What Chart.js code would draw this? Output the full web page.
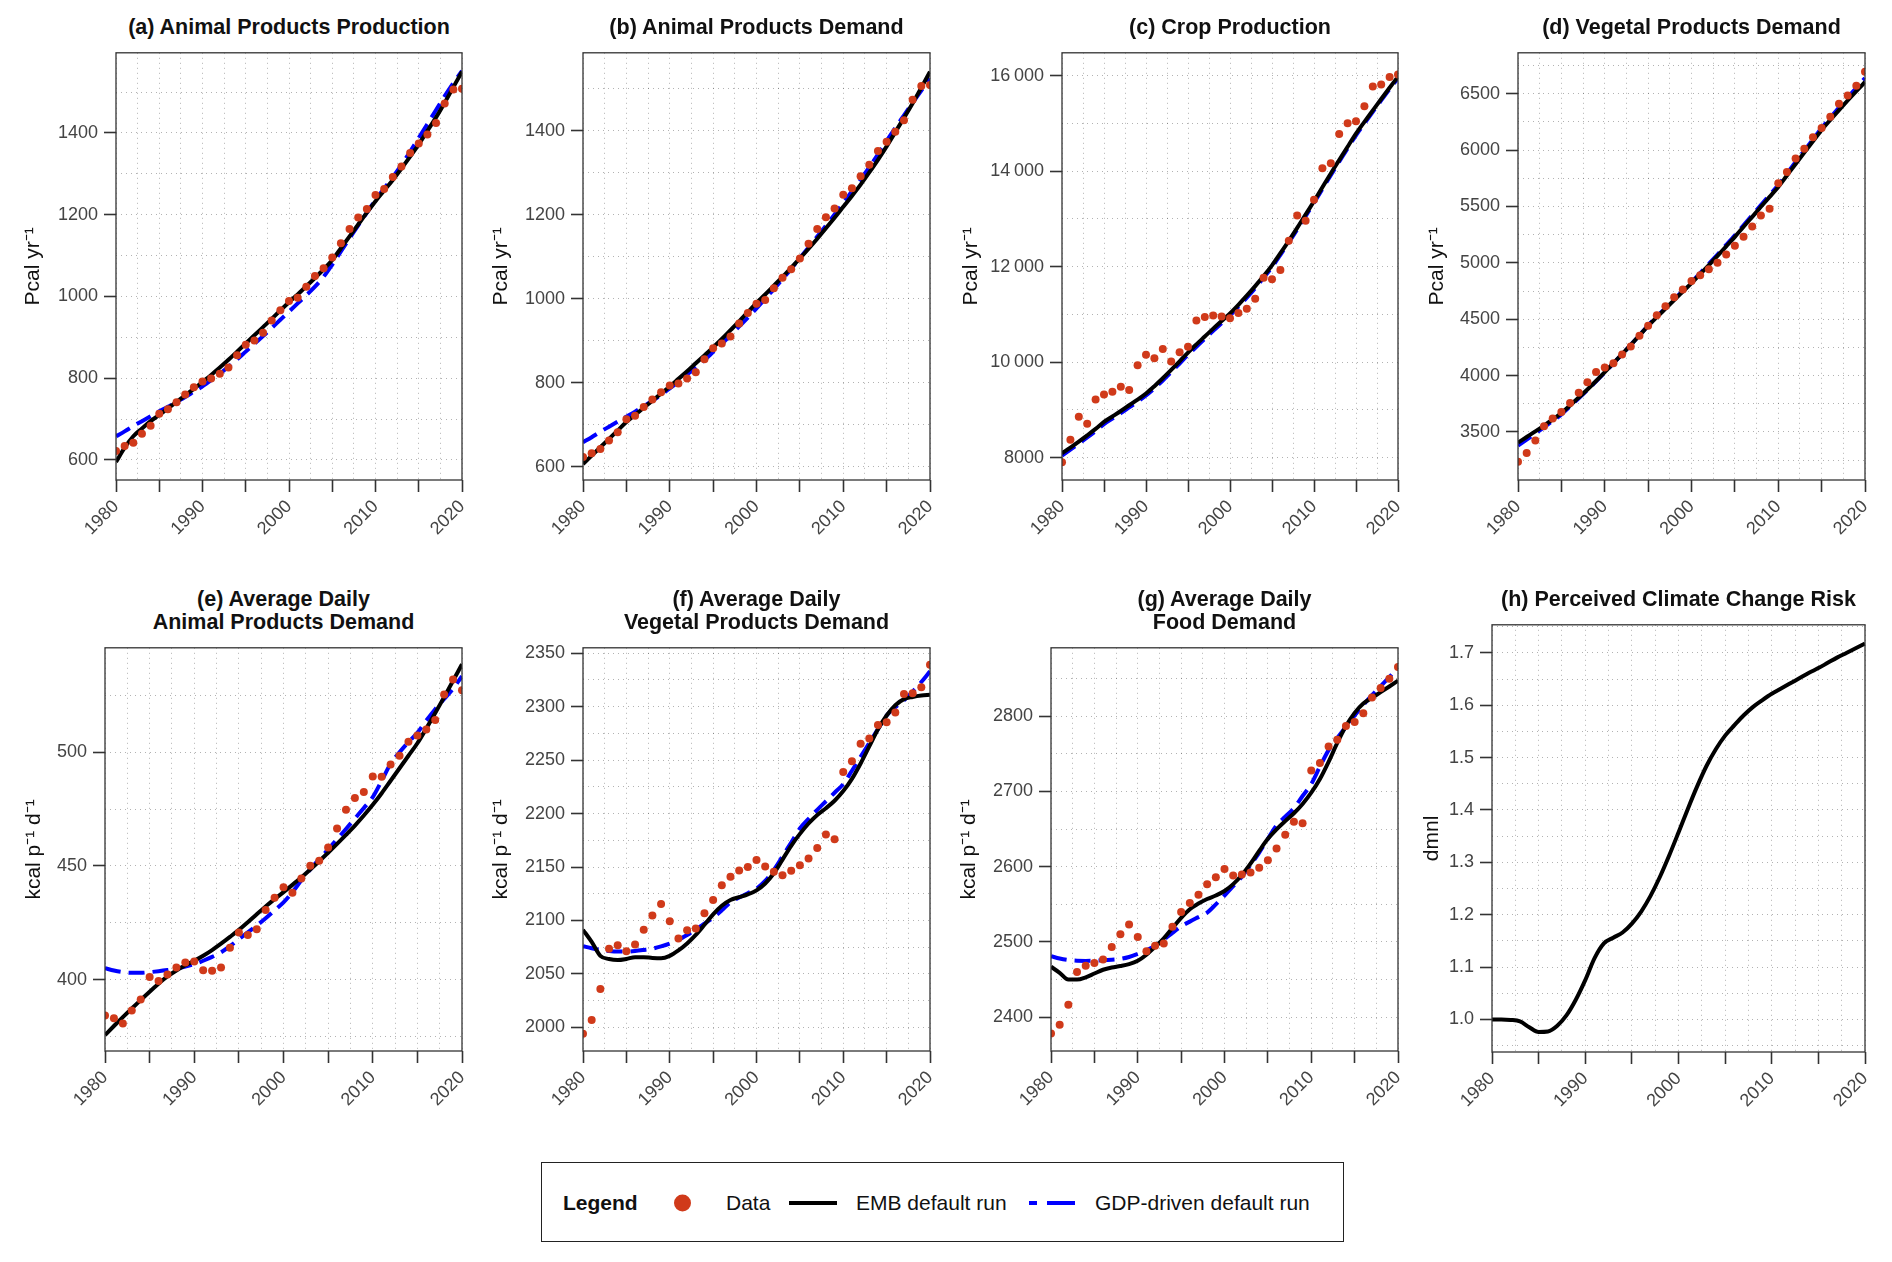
<!DOCTYPE html>
<html>
<head>
<meta charset="utf-8">
<script src="https://cdn.jsdelivr.net/npm/chart.js@4.4.1/dist/chart.umd.min.js"></script>
<style>
  body { margin: 0; background: #fff; width: 1892px; height: 1262px; position: relative; overflow: hidden;
         font-family: "Liberation Sans", Arial, sans-serif; }
  canvas.panel { position: absolute; }
  .ptitle { position: absolute; font-weight: bold; font-size: 21.5px; line-height: 23px; text-align: center;
            color: #111; white-space: nowrap; }
  #legend { position: absolute; left: 541px; top: 1162px; width: 801px; height: 78px; border: 1.5px solid #222;
            font-size: 21px; color: #111; }
  #legend span { position: absolute; top: 40px; transform: translateY(-50%); white-space: nowrap; }
</style>
</head>
<body>
<div id="legend">
  <span style="left:21px;font-weight:bold">Legend</span>
  <span style="left:132px;width:17px;height:17px;border-radius:50%;background:#d03a1a"></span>
  <span style="left:184px">Data</span>
  <span style="left:247px;width:48px;height:4px;background:#000"></span>
  <span style="left:314px">EMB default run</span>
  <span style="left:487px;width:8px;height:4px;background:#0000ff"></span>
  <span style="left:505px;width:28px;height:4px;background:#0000ff"></span>
  <span style="left:553px">GDP-driven default run</span>
</div>
<script>
const years = [1980, 1981, 1982, 1983, 1984, 1985, 1986, 1987, 1988, 1989,
               1990, 1991, 1992, 1993, 1994, 1995, 1996, 1997, 1998, 1999,
               2000, 2001, 2002, 2003, 2004, 2005, 2006, 2007, 2008, 2009,
               2010, 2011, 2012, 2013, 2014, 2015, 2016, 2017, 2018, 2019, 2020];
const xTickLabels = [1980, 1990, 2000, 2010, 2020];

// (a) animal products production, Pcal/yr
const aData = [622, 634, 642, 664, 684, 713, 724, 741, 760, 778, 792, 799, 811, 826, 856, 882, 892, 911, 941, 966,
               989, 997, 1024, 1050, 1069, 1095, 1130, 1165, 1193, 1214, 1248, 1263, 1292, 1318, 1351, 1374, 1396, 1424, 1472, 1506, 1508];
const aEmb = [595, 630, 658, 677, 695, 710, 726, 742, 758, 774, 791, 808, 826, 845, 865, 885, 905, 925, 945, 966,
              986, 1005, 1025, 1045, 1066, 1089, 1118, 1147, 1176, 1205, 1233, 1259, 1285, 1313, 1342, 1372, 1405, 1438, 1474, 1512, 1550];
const aGdp = [658, 670, 683, 695, 707, 719, 730, 742, 754, 767, 780, 795, 811, 828, 846, 865, 884, 903, 923, 943,
              963, 983, 1003, 1024, 1048, 1078, 1110, 1142, 1174, 1205, 1236, 1264, 1292, 1322, 1354, 1388, 1422, 1456, 1490, 1522, 1552];
const aTicks = [600, 800, 1000, 1200, 1400];

// (b) animal products demand, Pcal/yr
const bData = [623, 632, 642, 662, 682, 713, 721, 742, 760, 777, 793, 798, 810, 825, 856, 882, 893, 910, 941, 966,
               988, 997, 1025, 1050, 1070, 1096, 1131, 1166, 1194, 1215, 1248, 1263, 1292, 1319, 1352, 1374, 1398, 1425, 1474, 1507, 1509];
const bEmb = [606, 626, 646, 666, 686, 706, 723, 740, 757, 774, 791, 809, 827, 846, 865, 884, 904, 925, 946, 968,
              990, 1010, 1031, 1052, 1074, 1096, 1119, 1143, 1168, 1193, 1219, 1245, 1272, 1301, 1331, 1363, 1397, 1431, 1466, 1503, 1541];
const bGdp = [658, 670, 683, 695, 707, 719, 731, 744, 757, 771, 786, 802, 819, 836, 854, 873, 892, 913, 934, 955,
              977, 1000, 1023, 1047, 1071, 1097, 1122, 1148, 1174, 1201, 1228, 1256, 1284, 1313, 1344, 1376, 1407, 1437, 1467, 1496, 1525];
const bTicks = [600, 800, 1000, 1200, 1400];

// (c) crop production, Pcal/yr
const cData = [7903, 8373, 8857, 8708, 9215, 9320, 9379, 9484, 9417, 9931, 10155, 10080, 10274, 10013, 10207, 10319, 10870, 10945, 10975, 10952,
               10915, 11027, 11116, 11325, 11765, 11735, 11929, 12540, 13070, 12958, 13398, 14061, 14166, 14777, 15001, 15045, 15358, 15769, 15813, 15970, 16022];
const cEmb = [8090, 8210, 8335, 8465, 8600, 8746, 8860, 8975, 9095, 9215, 9342, 9495, 9660, 9835, 10015, 10199, 10370, 10535, 10700, 10860,
              11020, 11200, 11390, 11590, 11800, 12026, 12280, 12540, 12810, 13090, 13368, 13660, 13950, 14230, 14510, 14784, 15030, 15270, 15510, 15745, 15977];
const cGdp = [8040, 8165, 8290, 8420, 8555, 8700, 8815, 8930, 9050, 9170, 9300, 9450, 9615, 9790, 9970, 10150, 10320, 10490, 10655, 10815,
              10975, 11160, 11350, 11550, 11765, 11990, 12245, 12505, 12775, 13055, 13335, 13625, 13915, 14195, 14475, 14750, 14995, 15240, 15480, 15715, 15950];
const cTicks = [8000, 10000, 12000, 14000, 16000];

// (d) vegetal products demand, Pcal/yr
const dData = [3235, 3314, 3424, 3551, 3620, 3677, 3756, 3847, 3942, 4031, 4072, 4109, 4188, 4258, 4353, 4441, 4536, 4615, 4694, 4763,
               4839, 4889, 4943, 5000, 5073, 5152, 5231, 5322, 5420, 5480, 5707, 5805, 5925, 6011, 6115, 6197, 6295, 6412, 6484, 6570, 6696];
const dEmb = [3405, 3455, 3505, 3557, 3611, 3667, 3735, 3805, 3877, 3952, 4031, 4110, 4190, 4272, 4356, 4441, 4518, 4594, 4670, 4745,
              4820, 4900, 4980, 5062, 5146, 5231, 5320, 5408, 5497, 5585, 5673, 5775, 5877, 5978, 6078, 6178, 6268, 6355, 6440, 6523, 6604];
const dGdp = [3378, 3432, 3486, 3542, 3598, 3656, 3726, 3798, 3872, 3948, 4028, 4108, 4190, 4273, 4358, 4444, 4522, 4599, 4676, 4752,
              4828, 4909, 4991, 5074, 5159, 5245, 5334, 5423, 5512, 5601, 5690, 5792, 5894, 5995, 6095, 6195, 6287, 6377, 6465, 6552, 6638];
const dTicks = [3500, 4000, 4500, 5000, 5500, 6000, 6500];

// (e) average daily animal products demand, kcal/p/d
const eData = [384.2, 383.0, 380.7, 386.4, 391.3, 401.2, 399.4, 402.3, 405.3, 407.5, 408.0, 404.1, 403.9, 405.3, 414.0, 420.7, 419.6, 422.2, 430.6, 436.0,
               440.7, 438.2, 444.5, 450.1, 452.3, 458.1, 466.5, 474.7, 479.9, 482.5, 489.4, 489.3, 494.6, 498.5, 504.7, 507.4, 510.0, 514.2, 525.5, 532.1, 527.3];
const eEmb = [375.6, 379.6, 383.5, 387.3, 391, 394.7, 398.2, 401.4, 404, 406.3, 408.3, 410.5, 413, 415.8, 418.8, 421.9, 425.3, 428.8, 432.2, 435.4,
              438.5, 441.7, 445, 448.5, 452.1, 455.8, 459.7, 463.7, 467.8, 472.2, 476.9, 482, 487.5, 493, 498.5, 504, 510.5, 517.3, 524.3, 531.5, 538.8];
const eGdp = [405, 404, 403.3, 403, 403, 403.3, 403.7, 404.2, 404.8, 405.7, 406.8, 408.3, 410, 412, 414.7, 417.8, 420.8, 423.8, 427, 430.5,
              434, 438.5, 443.7, 448.5, 453, 457.3, 461.8, 466.3, 470.9, 475.5, 480.3, 487.5, 495, 500, 504.5, 508.6, 514, 519, 523.5, 528, 533.5];
const eTicks = [400, 450, 500];

// (f) average daily vegetal products demand, kcal/p/d
const fData = [1994.2, 2007, 2035.9, 2073.7, 2076.9, 2071.2, 2077.6, 2091.3, 2104.8, 2115.4, 2099.4, 2083.3, 2091, 2092.6, 2106.7, 2119.2, 2133, 2141, 2146.8, 2150,
               2156.7, 2150.6, 2145.5, 2142.3, 2146.5, 2151.6, 2158, 2167.9, 2180.4, 2176, 2238.8, 2249, 2265.4, 2270.2, 2282.7, 2285.3, 2294.6, 2311.9, 2312.5, 2318, 2339.1];
const fEmb = [2091.3, 2080, 2067, 2064, 2063, 2064, 2065.7, 2065.7, 2065, 2064.7, 2067, 2072, 2078.5, 2086.5, 2096, 2105.8, 2113.8, 2119.2, 2121.8, 2124.4,
              2128.2, 2134.6, 2144.2, 2157, 2169.9, 2181, 2190.7, 2198.7, 2205, 2212, 2221, 2232.4, 2246.8, 2262.8, 2278.8, 2291.7, 2301.3, 2307, 2309, 2310.3, 2311];
const fGdp = [2076, 2074, 2072.5, 2071.5, 2071, 2071, 2071.5, 2072.5, 2073.7, 2075.8, 2078.5, 2082, 2086.5, 2091.5, 2097, 2102.6, 2109.5, 2117, 2121.5, 2125.5,
              2129.8, 2137, 2147.4, 2160, 2173, 2186, 2195, 2203.5, 2211.5, 2219.5, 2227.6, 2240, 2253, 2266, 2279, 2291.7, 2299.5, 2306, 2314, 2323, 2333];
const fTicks = [2000, 2050, 2100, 2150, 2200, 2250, 2300, 2350];

// (g) average daily food demand, kcal/p/d
const gData = [2378.1, 2390, 2416.4, 2460.1, 2468.3, 2472, 2476.5, 2493.4, 2510.3, 2523, 2506.6, 2487.5, 2494.8, 2498, 2520.3, 2539.9, 2551.7, 2562.6, 2576.8, 2585.9,
               2596.8, 2588.2, 2589.5, 2592.3, 2598.6, 2608.7, 2624.1, 2642.4, 2659.7, 2657.9, 2728, 2738, 2759.9, 2768.6, 2787.2, 2792.3, 2804.1, 2825, 2837.4, 2849.7, 2865.6];
const gEmb = [2467, 2459, 2450, 2450, 2453, 2458, 2463, 2466, 2468, 2470.6, 2475, 2483, 2493.4, 2504.8, 2518.5, 2532, 2543.5, 2551, 2557, 2561.7,
              2567.7, 2576.8, 2589, 2604, 2621, 2637, 2649.7, 2660.6, 2671, 2683.4, 2698.4, 2716.6, 2739.4, 2764.5, 2787, 2804.5, 2817, 2824.6, 2832, 2839.6, 2847.4];
const gGdp = [2481, 2478, 2476, 2475, 2474.8, 2475, 2475.5, 2476.3, 2477.4, 2480, 2484, 2489, 2494.8, 2503, 2512, 2520.7, 2527, 2533, 2539, 2550,
              2561.7, 2574, 2586.8, 2602, 2618.7, 2637, 2655, 2666.5, 2678, 2694, 2710, 2733, 2755, 2771, 2786, 2801, 2815, 2828, 2840, 2852, 2864.7];
const gTicks = [2400, 2500, 2600, 2700, 2800];

// (h) perceived climate change risk, dmnl
const hEmb = [1.000, 1.000, 0.999, 0.996, 0.985, 0.976, 0.977, 0.988, 1.008, 1.038, 1.075, 1.117, 1.145, 1.156, 1.166, 1.183, 1.206, 1.236, 1.272, 1.313,
              1.357, 1.402, 1.445, 1.484, 1.516, 1.542, 1.562, 1.581, 1.597, 1.610, 1.622, 1.632, 1.642, 1.652, 1.662, 1.671, 1.681, 1.691, 1.700, 1.709, 1.718];
const hTicks = [1.0, 1.1, 1.2, 1.3, 1.4, 1.5, 1.6, 1.7];

Chart.defaults.font.family = "'Liberation Sans', Arial, sans-serif";

const PCAL = 'Pcal yr\u207B\u00B9';
const KCAL = 'kcal p\u207B\u00B9 d\u207B\u00B9';

// box = plot area [left, top, right, bottom] on the page
const panels = [
  { title: ['(a) Animal Products Production'], titleY: 16, yTitle: PCAL, titleOff: 82.5, box: [116, 51, 462, 480],
    min: 551, max: 1596, step: 100, ticks: aTicks, dec: 0, data: aData, emb: aEmb, gdp: aGdp },
  { title: ['(b) Animal Products Demand'], titleY: 16, yTitle: PCAL, titleOff: 82, box: [583, 51, 930, 480],
    min: 568, max: 1586, step: 100, ticks: bTicks, dec: 0, data: bData, emb: bEmb, gdp: bGdp },
  { title: ['(c) Crop Production'], titleY: 16, yTitle: PCAL, titleOff: 91, box: [1062, 51, 1398, 480],
    min: 7530, max: 16477, step: 1000, ticks: cTicks, dec: 0, space: true, data: cData, emb: cEmb, gdp: cGdp },
  { title: ['(d) Vegetal Products Demand'], titleY: 16, yTitle: PCAL, titleOff: 80.5, box: [1518, 51, 1865, 480],
    min: 3074, max: 6863, step: 250, ticks: dTicks, dec: 0, data: dData, emb: dEmb, gdp: dGdp },
  { title: ['(e) Average Daily', 'Animal Products Demand'], titleY: 588, yTitle: KCAL, titleOff: 71, box: [105, 646, 462, 1051],
    min: 368.6, max: 546, step: 25, ticks: eTicks, dec: 0, data: eData, emb: eEmb, gdp: eGdp },
  { title: ['(f) Average Daily', 'Vegetal Products Demand'], titleY: 588, yTitle: KCAL, titleOff: 82.3, box: [583, 646, 930, 1051],
    min: 1978, max: 2355, step: 25, ticks: fTicks, dec: 0, data: fData, emb: fEmb, gdp: fGdp },
  { title: ['(g) Average Daily', 'Food Demand'], titleY: 588, yTitle: KCAL, titleOff: 82, box: [1051, 646, 1398, 1051],
    min: 2355, max: 2891, step: 50, ticks: gTicks, dec: 0, data: gData, emb: gEmb, gdp: gGdp },
  { title: ['(h) Perceived Climate Change Risk'], titleY: 588, yTitle: 'dmnl', titleOff: 60.3, box: [1492, 623, 1865, 1052],
    min: 0.9377, max: 1.7537, step: 0.05, ticks: hTicks, dec: 1, data: null, emb: hEmb, gdp: null }
];

const Y_W = 105, X_H = 75, PAD_T = 15, PAD_R = 25;

const near = (a, b) => Math.abs(a - b) < 1e-6;
const isMult = (v, s) => near(v / s, Math.round(v / s));

function gridValues(min, max, step) {
  const out = [];
  for (let k = Math.ceil(min / step - 1e-9); k * step <= max + 1e-9; k++) out.push(+(k * step).toFixed(6));
  return out;
}

const frame = {
  id: 'frame',
  afterDraw(chart) {
    const { ctx, chartArea: a } = chart;
    ctx.save();
    ctx.strokeStyle = '#333';
    ctx.lineWidth = 1.3;
    ctx.strokeRect(a.left, a.top, a.right - a.left, a.bottom - a.top);
    ctx.restore();
  }
};

const pts = arr => years.map((y, i) => ({ x: y, y: arr[i] }));

panels.forEach(p => {
  const [L, T, R, B] = p.box;

  const t = document.createElement('div');
  t.className = 'ptitle';
  t.style.left = (L - 100) + 'px';
  t.style.width = (R - L + 200) + 'px';
  t.style.top = p.titleY + 'px';
  t.innerHTML = p.title.join('<br>');
  document.body.appendChild(t);

  const canvas = document.createElement('canvas');
  canvas.className = 'panel';
  const w = (R - L) + Y_W + PAD_R;
  const h = (B - T) + PAD_T + X_H;
  canvas.width = w; canvas.height = h;
  canvas.style.width = w + 'px'; canvas.style.height = h + 'px';
  canvas.style.left = (L - Y_W) + 'px';
  canvas.style.top = (T - PAD_T) + 'px';
  document.body.appendChild(canvas);

  const datasets = [];
  if (p.data) datasets.push({ label: 'Data', data: pts(p.data), showLine: false, pointRadius: 4,
    pointBackgroundColor: '#d03a1a', pointBorderWidth: 0, order: 0 });
  datasets.push({ label: 'EMB default run', data: pts(p.emb), borderColor: '#000', borderWidth: 4,
    pointRadius: 0, cubicInterpolationMode: 'monotone', order: 1 });
  if (p.gdp) datasets.push({ label: 'GDP-driven default run', data: pts(p.gdp), borderColor: '#0000ff', borderWidth: 4,
    borderDash: [16, 8], pointRadius: 0, cubicInterpolationMode: 'monotone', order: 2 });

  const xGrid = gridValues(1980, 2020, 2.5);
  const yGrid = gridValues(p.min, p.max, p.step);
  const isLabel = v => p.ticks.some(tk => near(tk, v));
  const fmt = v => {
    let s = v.toFixed(p.dec);
    if (p.space && v >= 10000) s = s.slice(0, -3) + '\u2009' + s.slice(-3);
    return s;
  };

  new Chart(canvas.getContext('2d'), {
    type: 'line',
    data: { datasets },
    options: {
      responsive: false,
      animation: false,
      layout: { padding: { left: 0, top: PAD_T, right: PAD_R, bottom: 0 } },
      plugins: { legend: { display: false }, tooltip: { enabled: false } },
      scales: {
        x: {
          type: 'linear', min: 1980, max: 2020,
          afterBuildTicks: s => { s.ticks = xGrid.map(v => ({ value: v })); },
          afterFit: s => { s.height = X_H; },
          ticks: { autoSkip: false, minRotation: 45, maxRotation: 45, padding: 4, color: '#444',
                   font: { size: 18 }, callback: v => xTickLabels.includes(v) ? String(v) : '' },
          grid: { color: 'rgba(0,0,0,0.3)', lineWidth: 1, tickLength: 12, tickWidth: 1.6,
                  tickColor: c => isMult(c.tick.value, 5) ? '#333' : 'rgba(0,0,0,0)' },
          border: { display: false, dash: [1, 4] }
        },
        y: {
          type: 'linear', min: p.min, max: p.max,
          afterBuildTicks: s => { s.ticks = yGrid.map(v => ({ value: v })); },
          afterFit: s => { s.width = Y_W; },
          ticks: { autoSkip: false, padding: 6, color: '#444', font: { size: 18 },
                   callback: v => isLabel(v) ? fmt(v) : '' },
          grid: { color: 'rgba(0,0,0,0.3)', lineWidth: 1, tickLength: 12, tickWidth: 1.6,
                  tickColor: c => isLabel(c.tick.value) ? '#333' : 'rgba(0,0,0,0)' },
          border: { display: false, dash: [1, 4] },
          title: { display: true, text: p.yTitle, color: '#111', font: { size: 21 },
                   padding: { top: Math.max(0, Y_W - p.titleOff - 12.5), bottom: 0 } }
        }
      }
    },
    plugins: [frame]
  });
});
</script>
</body>
</html>
